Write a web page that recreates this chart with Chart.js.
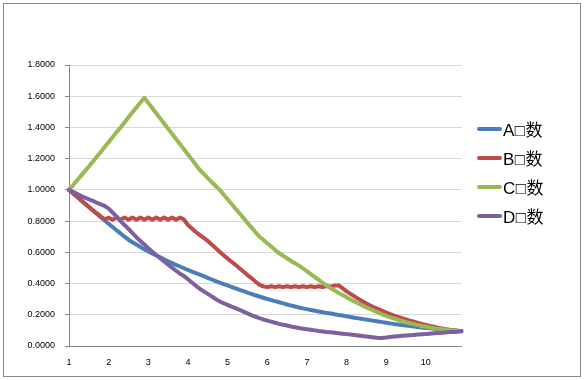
<!DOCTYPE html>
<html><head><meta charset="utf-8">
<script src="https://cdn.jsdelivr.net/npm/chart.js@4.4.1/dist/chart.umd.min.js"></script>
<style>
html,body{margin:0;padding:0;background:#fff;}
#wrap{position:relative;width:585px;height:380px;overflow:hidden;}
#frame{position:absolute;left:3px;top:3px;width:578px;height:374px;border:1px solid #898989;box-sizing:border-box;}
canvas{position:absolute;left:0;top:0;}
#legend{position:absolute;left:477px;top:114px;font-family:"Liberation Sans","Noto Sans CJK SC",sans-serif;font-size:17px;color:#000;}
.item{display:flex;align-items:center;height:29px;white-space:nowrap;letter-spacing:0.5px;}
.swatch{width:25px;height:4px;margin-right:1px;border-radius:2px;}
</style></head>
<body><div id="wrap"><div id="frame"></div><canvas id="c" width="585" height="380"></canvas><div id="legend"></div></div>
<script>
const categories = [
'1.0','1.1','1.2','1.3','1.4','1.5','1.6','1.7','1.8','1.9',
'2.0','2.1','2.2','2.3','2.4','2.5','2.6','2.7','2.8','2.9',
'3.0','3.1','3.2','3.3','3.4','3.5','3.6','3.7','3.8','3.9',
'4.0','4.1','4.2','4.3','4.4','4.5','4.6','4.7','4.8','4.9',
'5.0','5.1','5.2','5.3','5.4','5.5','5.6','5.7','5.8','5.9',
'6.0','6.1','6.2','6.3','6.4','6.5','6.6','6.7','6.8','6.9',
'7.0','7.1','7.2','7.3','7.4','7.5','7.6','7.7','7.8','7.9',
'8.0','8.1','8.2','8.3','8.4','8.5','8.6','8.7','8.8','8.9',
'9.0','9.1','9.2','9.3','9.4','9.5','9.6','9.7','9.8','9.9',
'10.0','10.1','10.2','10.3','10.4','10.5','10.6','10.7','10.8','10.9'];

const tickLabels = ['1','2','3','4','5','6','7','8','9','10'];

const seriesNames = ['A\u25A1数','B\u25A1数','C\u25A1数','D\u25A1数'];

const seriesA = [
1.000,0.978,0.956,0.934,0.912,0.890,0.868,0.847,0.825,0.804,
0.783,0.762,0.741,0.721,0.700,0.681,0.665,0.650,0.634,0.619,
0.605,0.593,0.580,0.568,0.555,0.543,0.531,0.520,0.509,0.498,
0.487,0.477,0.467,0.457,0.447,0.436,0.426,0.416,0.406,0.397,
0.388,0.378,0.369,0.360,0.351,0.342,0.334,0.325,0.317,0.309,
0.301,0.294,0.287,0.280,0.273,0.266,0.259,0.253,0.247,0.241,
0.236,0.231,0.226,0.221,0.216,0.212,0.208,0.203,0.199,0.195,
0.190,0.186,0.181,0.177,0.173,0.169,0.165,0.161,0.157,0.153,
0.149,0.145,0.141,0.138,0.134,0.131,0.128,0.125,0.122,0.119,
0.116,0.113,0.111,0.108,0.106,0.104,0.102,0.100,0.098,0.096];

const seriesB = [
1.000,0.978,0.957,0.935,0.912,0.892,0.870,0.850,0.830,0.812,
0.822,0.808,0.823,0.809,0.823,0.809,0.823,0.809,0.823,0.809,
0.823,0.809,0.823,0.809,0.823,0.809,0.823,0.809,0.823,0.810,
0.775,0.752,0.730,0.710,0.692,0.673,0.650,0.627,0.604,0.582,
0.560,0.540,0.520,0.498,0.477,0.455,0.435,0.413,0.393,0.382,
0.377,0.383,0.377,0.383,0.377,0.383,0.377,0.383,0.377,0.383,
0.377,0.383,0.377,0.383,0.378,0.384,0.380,0.387,0.388,0.370,
0.350,0.334,0.318,0.302,0.287,0.273,0.259,0.247,0.236,0.225,
0.214,0.204,0.195,0.186,0.178,0.170,0.162,0.155,0.148,0.141,
0.135,0.129,0.123,0.117,0.112,0.108,0.104,0.101,0.098,0.096];

const seriesC = [
1.000,1.030,1.060,1.090,1.120,1.150,1.180,1.212,1.243,1.275,
1.306,1.338,1.370,1.400,1.432,1.465,1.497,1.528,1.560,1.590,
1.557,1.524,1.491,1.458,1.425,1.392,1.359,1.326,1.293,1.260,
1.227,1.194,1.161,1.128,1.102,1.076,1.050,1.025,1.000,0.970,
0.940,0.910,0.880,0.850,0.820,0.790,0.760,0.730,0.702,0.680,
0.658,0.637,0.615,0.595,0.578,0.562,0.545,0.530,0.515,0.497,
0.479,0.460,0.441,0.423,0.405,0.387,0.370,0.355,0.340,0.326,
0.312,0.298,0.285,0.272,0.259,0.247,0.236,0.225,0.214,0.203,
0.193,0.184,0.176,0.168,0.160,0.152,0.146,0.140,0.134,0.128,
0.123,0.118,0.114,0.110,0.107,0.104,0.101,0.099,0.097,0.095];

const seriesD = [
1.000,0.988,0.975,0.962,0.950,0.940,0.930,0.918,0.907,0.897,
0.880,0.855,0.828,0.800,0.775,0.750,0.723,0.697,0.673,0.650,
0.627,0.604,0.583,0.562,0.541,0.521,0.502,0.482,0.463,0.448,
0.428,0.407,0.386,0.366,0.350,0.334,0.318,0.301,0.286,0.274,
0.263,0.252,0.242,0.232,0.220,0.209,0.198,0.188,0.178,0.170,
0.163,0.156,0.149,0.142,0.136,0.131,0.125,0.120,0.115,0.111,
0.107,0.104,0.100,0.096,0.093,0.090,0.088,0.085,0.082,0.079,
0.076,0.073,0.070,0.067,0.064,0.061,0.058,0.055,0.052,0.051,
0.054,0.058,0.061,0.063,0.065,0.067,0.069,0.071,0.073,0.075,
0.077,0.079,0.081,0.083,0.085,0.087,0.089,0.090,0.092,0.094];

const seriesColors = ['#4A7EBB','#BE4B48','#98B954','#7D60A0'];
const allSeries = [seriesA, seriesB, seriesC, seriesD];

const datasets = allSeries.map((vals, i) => ({
  label: seriesNames[i],
  data: vals,
  borderColor: seriesColors[i],
  backgroundColor: seriesColors[i],
  borderWidth: 4,
  pointRadius: 0,
  pointHoverRadius: 0,
  tension: 0,
  fill: false,
  borderCapStyle: 'round',
  borderJoinStyle: 'round',
  order: allSeries.length - i
}));

const tickFont = {family: '"Liberation Sans", Arial, sans-serif', size: 9};

const chart = new Chart(document.getElementById('c'), {
  type: 'line',
  data: {labels: categories, datasets: datasets},
  options: {
    responsive: false,
    animation: false,
    devicePixelRatio: 1,
    layout: {padding: {left: 9, right: 123.5, top: 65, bottom: 4}},
    plugins: {legend: {display: false}, tooltip: {enabled: false}, title: {display: false}},
    scales: {
      x: {
        type: 'category',
        offset: false,
        grid: {display: false, drawTicks: false},
        border: {display: true, color: '#868686', width: 1},
        ticks: {
          autoSkip: false, maxRotation: 0, minRotation: 0, padding: 11,
          color: '#000', font: tickFont,
          callback: function(value, index) { return index % 10 === 0 ? tickLabels[index / 10] : ''; }
        },
        afterFit: function(scale) { scale.height = 30; }
      },
      y: {
        min: 0, max: 1.8,
        grid: {
          color: (ctx) => (ctx.tick && ctx.tick.value === 0) ? '#868686' : '#d9d9d9',
          tickColor: '#868686', tickLength: 4, lineWidth: 1
        },
        border: {display: true, color: '#868686', width: 1},
        ticks: {stepSize: 0.2, padding: 10, color: '#000', font: tickFont,
          callback: (v) => Number(v).toFixed(4)},
        afterFit: function(scale) { scale.width = 60; }
      }
    }
  }
});

const legendEl = document.getElementById('legend');
chart.data.datasets.forEach((ds) => {
  const item = document.createElement('div');
  item.className = 'item';
  const sw = document.createElement('span');
  sw.className = 'swatch';
  sw.style.background = ds.borderColor;
  const tx = document.createElement('span');
  tx.textContent = ds.label;
  item.appendChild(sw);
  item.appendChild(tx);
  legendEl.appendChild(item);
});
</script>
</body></html>
